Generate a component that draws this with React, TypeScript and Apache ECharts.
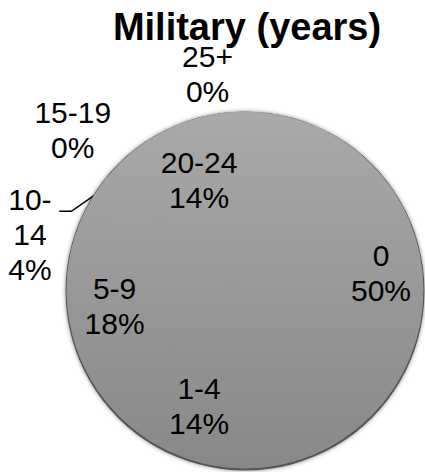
import React, { useEffect, useRef } from 'react';
import * as echarts from 'echarts';

const TITLE = 'Military (years)';
const categories = ['0', '1-4', '5-9', '10-14', '15-19', '20-24', '25+'];
const counts = [14, 4, 5, 1, 0, 4, 0];
// how a category name is wrapped inside its label
const displayNames: Record<string, string> = { '10-14': '10-\n14' };

const W = 425;
const H = 472;
const CX = 245;
const CY = 290;
const R = 178;
const FONT = '"Liberation Sans", Arial, Helvetica, sans-serif';

// label placement tweaks relative to ECharts' own placement
const LABEL_OUTSIDE = [false, false, false, true, true, false, true];
const LABEL_LINE = [false, false, false, true, false, false, false];
const LABEL_SHIFT: number[][] = [
  [44, -17],
  [-6, 33],
  [-39, 6],
  [-15, 47],
  [32, -40],
  [-6, -27],
  [3, -23],
];

export default function App() {
  const ref = useRef<HTMLDivElement>(null);
  useEffect(() => {
    if (!ref.current) return;
    const chart = echarts.init(ref.current, undefined, { renderer: 'svg' });
    const makeFill = () =>
      new echarts.graphic.LinearGradient(
        0, CY - R, 0, CY + R,
        [
          { offset: 0, color: '#a9a9a9' },
          { offset: 1, color: '#888888' },
        ],
        true
      );
    chart.setOption({
      animation: false,
      backgroundColor: '#ffffff',
      title: {
        text: TITLE,
        left: 242,
        top: 3,
        textAlign: 'center',
        textStyle: { fontFamily: FONT, fontSize: 38, fontWeight: 'bold', color: '#000' },
      },
      graphic: [
        {
          type: 'circle',
          z: 0,
          silent: true,
          shape: { cx: CX, cy: CY + 1, r: R + 1.5 },
          style: { fill: '#555555', shadowBlur: 4, shadowColor: 'rgba(0,0,0,0.45)' },
        },
      ],
      series: [
        {
          type: 'pie',
          center: [CX, CY],
          radius: [0, R],
          startAngle: 90,
          clockwise: true,
          avoidLabelOverlap: false,
          percentPrecision: 0,
          z: 2,
          itemStyle: { color: makeFill(), borderColor: makeFill(), borderWidth: 1 },
          label: {
            fontFamily: FONT,
            fontSize: 30,
            lineHeight: 35,
            color: '#000',
            formatter: (p: any) => `${displayNames[p.name] ?? p.name}\n${p.percent}%`,
          },
          labelLine: {
            lineStyle: { color: '#000', width: 1.5 },
          },
          labelLayout: (params: any) => {
            const i = params.dataIndex;
            const rect = params.labelRect;
            const s = LABEL_SHIFT[i] || [0, 0];
            const out: any = {
              x: rect.x + rect.width / 2 + s[0],
              y: rect.y + rect.height / 2 + s[1],
              align: 'center',
              verticalAlign: 'middle',
            };
            if (LABEL_LINE[i] && params.labelLinePoints && params.labelLinePoints[0]) {
              const p0 = params.labelLinePoints[0];
              out.labelLinePoints = [
                [p0[0], p0[1]],
                [p0[0] - 23, p0[1] + 16],
                [p0[0] - 35, p0[1] + 16],
              ];
            }
            return out;
          },
          data: categories.map((name, i) => ({
            name,
            value: counts[i],
            label: { position: LABEL_OUTSIDE[i] ? 'outside' : 'inside' },
            labelLine: { show: LABEL_LINE[i], length: 15, length2: 10 },
          })),
        },
      ],
    });
    return () => chart.dispose();
  }, []);
  return (
    <div
      ref={ref}
      style={{ position: 'fixed', left: 0, top: 0, width: W, height: H }}
    />
  );
}
